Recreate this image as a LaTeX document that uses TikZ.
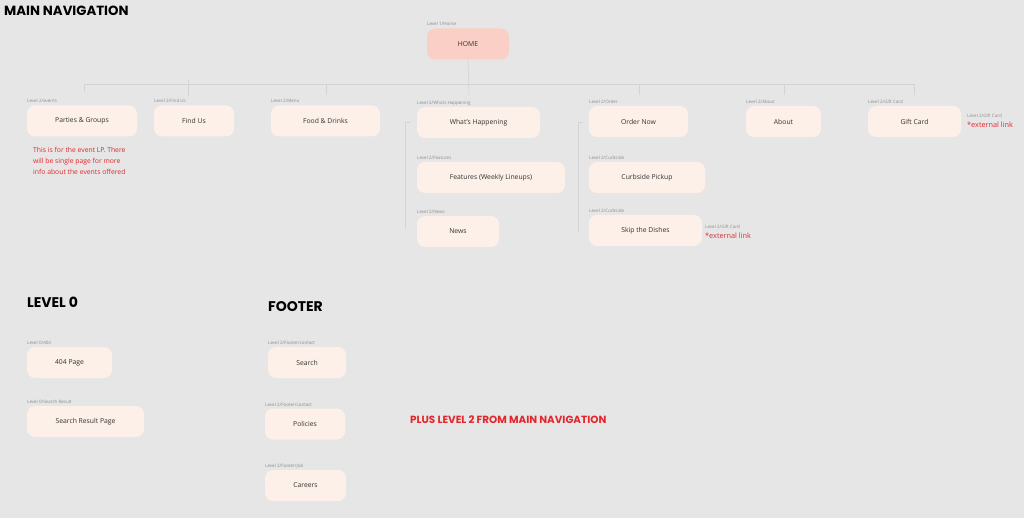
\documentclass[tikz,border=0pt]{standalone}
\usepackage{fontspec}
\setmainfont{Open Sans}
\newfontfamily\headfont{Poppins}[BoldFont={Poppins Bold}]
\definecolor{bgc}{HTML}{E6E6E6}
\definecolor{boxc}{HTML}{FCF0E8}
\definecolor{homec}{HTML}{F9CFC6}
\definecolor{lblc}{HTML}{8C8C8C}
\definecolor{redc}{HTML}{E3262D}
\definecolor{txtc}{HTML}{333333}
\definecolor{linec}{HTML}{D3D3D3}
\tikzset{
  pg/.style={rounded corners=8pt, fill=boxc, minimum height=31pt, inner sep=0pt,
    font=\fontsize{6.8}{8}\selectfont, text=txtc},
  homebox/.style={pg, fill=homec},
  lbl/.style={anchor=west, inner sep=0pt, font=\fontsize{4.5}{5}\selectfont, text=lblc},
  head/.style={anchor=west, inner sep=0pt, font=\headfont\bfseries\fontsize{13.3}{15}\selectfont, text=black},
  head2/.style={head, font=\headfont\bfseries\fontsize{14}{16}\selectfont},
  note/.style={anchor=west, inner sep=0pt, font=\fontsize{6.8}{11}\selectfont, text=redc},
  ext/.style={anchor=west, inner sep=0pt, font=\fontsize{7.3}{8}\selectfont, text=redc},
  conn/.style={draw=linec, line width=0.6pt}
}
\begin{document}
\begin{tikzpicture}[x=1pt,y=-1pt]
\fill[bgc] (0,0) rectangle (1024,518);
\useasboundingbox (0,0) rectangle (1024,518);

% headings
\node[head] (hmain) at (4,11) {MAIN NAVIGATION};
\node[head2] (hlevel) at (27,302) {LEVEL 0};
\node[head2] (hfooter) at (268,307) {FOOTER};

% home
\node[lbl] (homeL) at (427,24) {Level 1/Home};
\node[homebox, minimum width=82pt] (home) at (468,44) {HOME};

% level 2 row
\node[lbl] (partiesL) at (27,101) {Level 2/events};
\node[pg, minimum width=110pt] (parties) at (82,121) {Parties \& Groups};
\node[lbl] (findL) at (154,101) {Level 2/Find Us};
\node[pg, minimum width=80pt] (find) at (194,121) {Find Us};
\node[lbl] (foodL) at (271,101) {Level 2/Menu};
\node[pg, minimum width=109pt] (food) at (325.5,121) {Food \& Drinks};
\node[lbl] (whatL) at (417,103) {Level 2/Whats Happening};
\node[pg, minimum width=123pt] (what) at (478.5,122.5) {What's Happening};
\node[lbl] (featL) at (417,158) {Level 2/Features};
\node[pg, minimum width=148pt] (feat) at (491,177.5) {Features (Weekly Lineups)};
\node[lbl] (newsL) at (417,212) {Level 2/News};
\node[pg, minimum width=82pt] (news) at (458,231.5) {News};
\node[lbl] (orderL) at (589,102) {Level 2/Order};
\node[pg, minimum width=99pt] (order) at (638.5,121.5) {Order Now};
\node[lbl] (curbL) at (589,158) {Level 2/Curbside};
\node[pg, minimum width=116pt] (curb) at (647,177.5) {Curbside Pickup};
\node[lbl] (skipL) at (589,211) {Level 2/Curbside};
\node[pg, minimum width=113pt] (skip) at (645.5,230.5) {Skip the Dishes};
\node[lbl] (skipX) at (705,227) {Level 2/Gift Card};
\node[ext] (skipN) at (705,235.5) {*external link};
\node[lbl] (aboutL) at (746,102) {Level 2/About};
\node[pg, minimum width=75pt] (about) at (783.5,121.5) {About};
\node[lbl] (giftL) at (868,102) {Level 2/Gift Card};
\node[pg, minimum width=93pt] (gift) at (914.5,121.5) {Gift Card};
\node[lbl] (giftX) at (967,116) {Level 2/Gift Card};
\node[ext] (giftN) at (967,125) {*external link};

% note
\node[note, anchor=north west, align=left] (pnote) at (33,147)
  {This is for the event LP. There\\will be single page for more\\info about the events offered};

% level 0
\node[lbl] (p404L) at (27,343) {Level 0/404};
\node[pg, minimum width=85pt] (p404) at (69.5,362.5) {404 Page};
\node[lbl] (srpL) at (27,402) {Level 0/Search Result};
\node[pg, minimum width=117pt] (srp) at (85.5,421.5) {Search Result Page};

% footer
\node[lbl] (searchL) at (268,343) {Level 2/Footer/contact};
\node[pg, minimum width=78pt] (search) at (307,362.5) {Search};
\node[lbl] (polL) at (265,405) {Level 2/Footer/contact};
\node[pg, minimum width=80pt] (pol) at (305,424) {Policies};
\node[lbl] (carL) at (265,466) {Level 2/Footer/Job};
\node[pg, minimum width=81pt] (car) at (305.5,485.5) {Careers};

\node[anchor=west, inner sep=0pt, font=\headfont\bfseries\fontsize{10.4}{12}\selectfont, text=redc] (plus) at (410,420) {PLUS LEVEL 2 FROM MAIN NAVIGATION};

% connectors
\coordinate (busL) at (84,84.5);
\coordinate (busR) at (914,84.5);
\coordinate (homeEnd) at (469,95);
\coordinate (dParties) at (84,92);
\coordinate (tFind) at (188,80);
\coordinate (dFind) at (188,96);
\coordinate (tFood) at (326,84.5);
\coordinate (dFood) at (326,95);
\coordinate (tOrder) at (639,84.5);
\coordinate (dOrder) at (639,95);
\coordinate (tAbout) at (784,84.5);
\coordinate (dAbout) at (784,95);
\coordinate (dGift) at (914,95);
\coordinate (vA1) at (405,122);
\coordinate (vA2) at (405,228);
\coordinate (vA0) at (410,122);
\coordinate (vB1) at (578,122);
\coordinate (vB2) at (578,232);
\coordinate (vB0) at (583,122);
\draw[conn] (busL) -- (busR);
\draw[conn] (home.south) -- (homeEnd);
\draw[conn] (busL) -- (dParties);
\draw[conn] (tFind) -- (dFind);
\draw[conn] (tFood) -- (dFood);
\draw[conn] (tOrder) -- (dOrder);
\draw[conn] (tAbout) -- (dAbout);
\draw[conn] (busR) -- (dGift);
\draw[conn] (vA0) -- (vA1) -- (vA2);
\draw[conn] (vB0) -- (vB1) -- (vB2);
\end{tikzpicture}
\end{document}
